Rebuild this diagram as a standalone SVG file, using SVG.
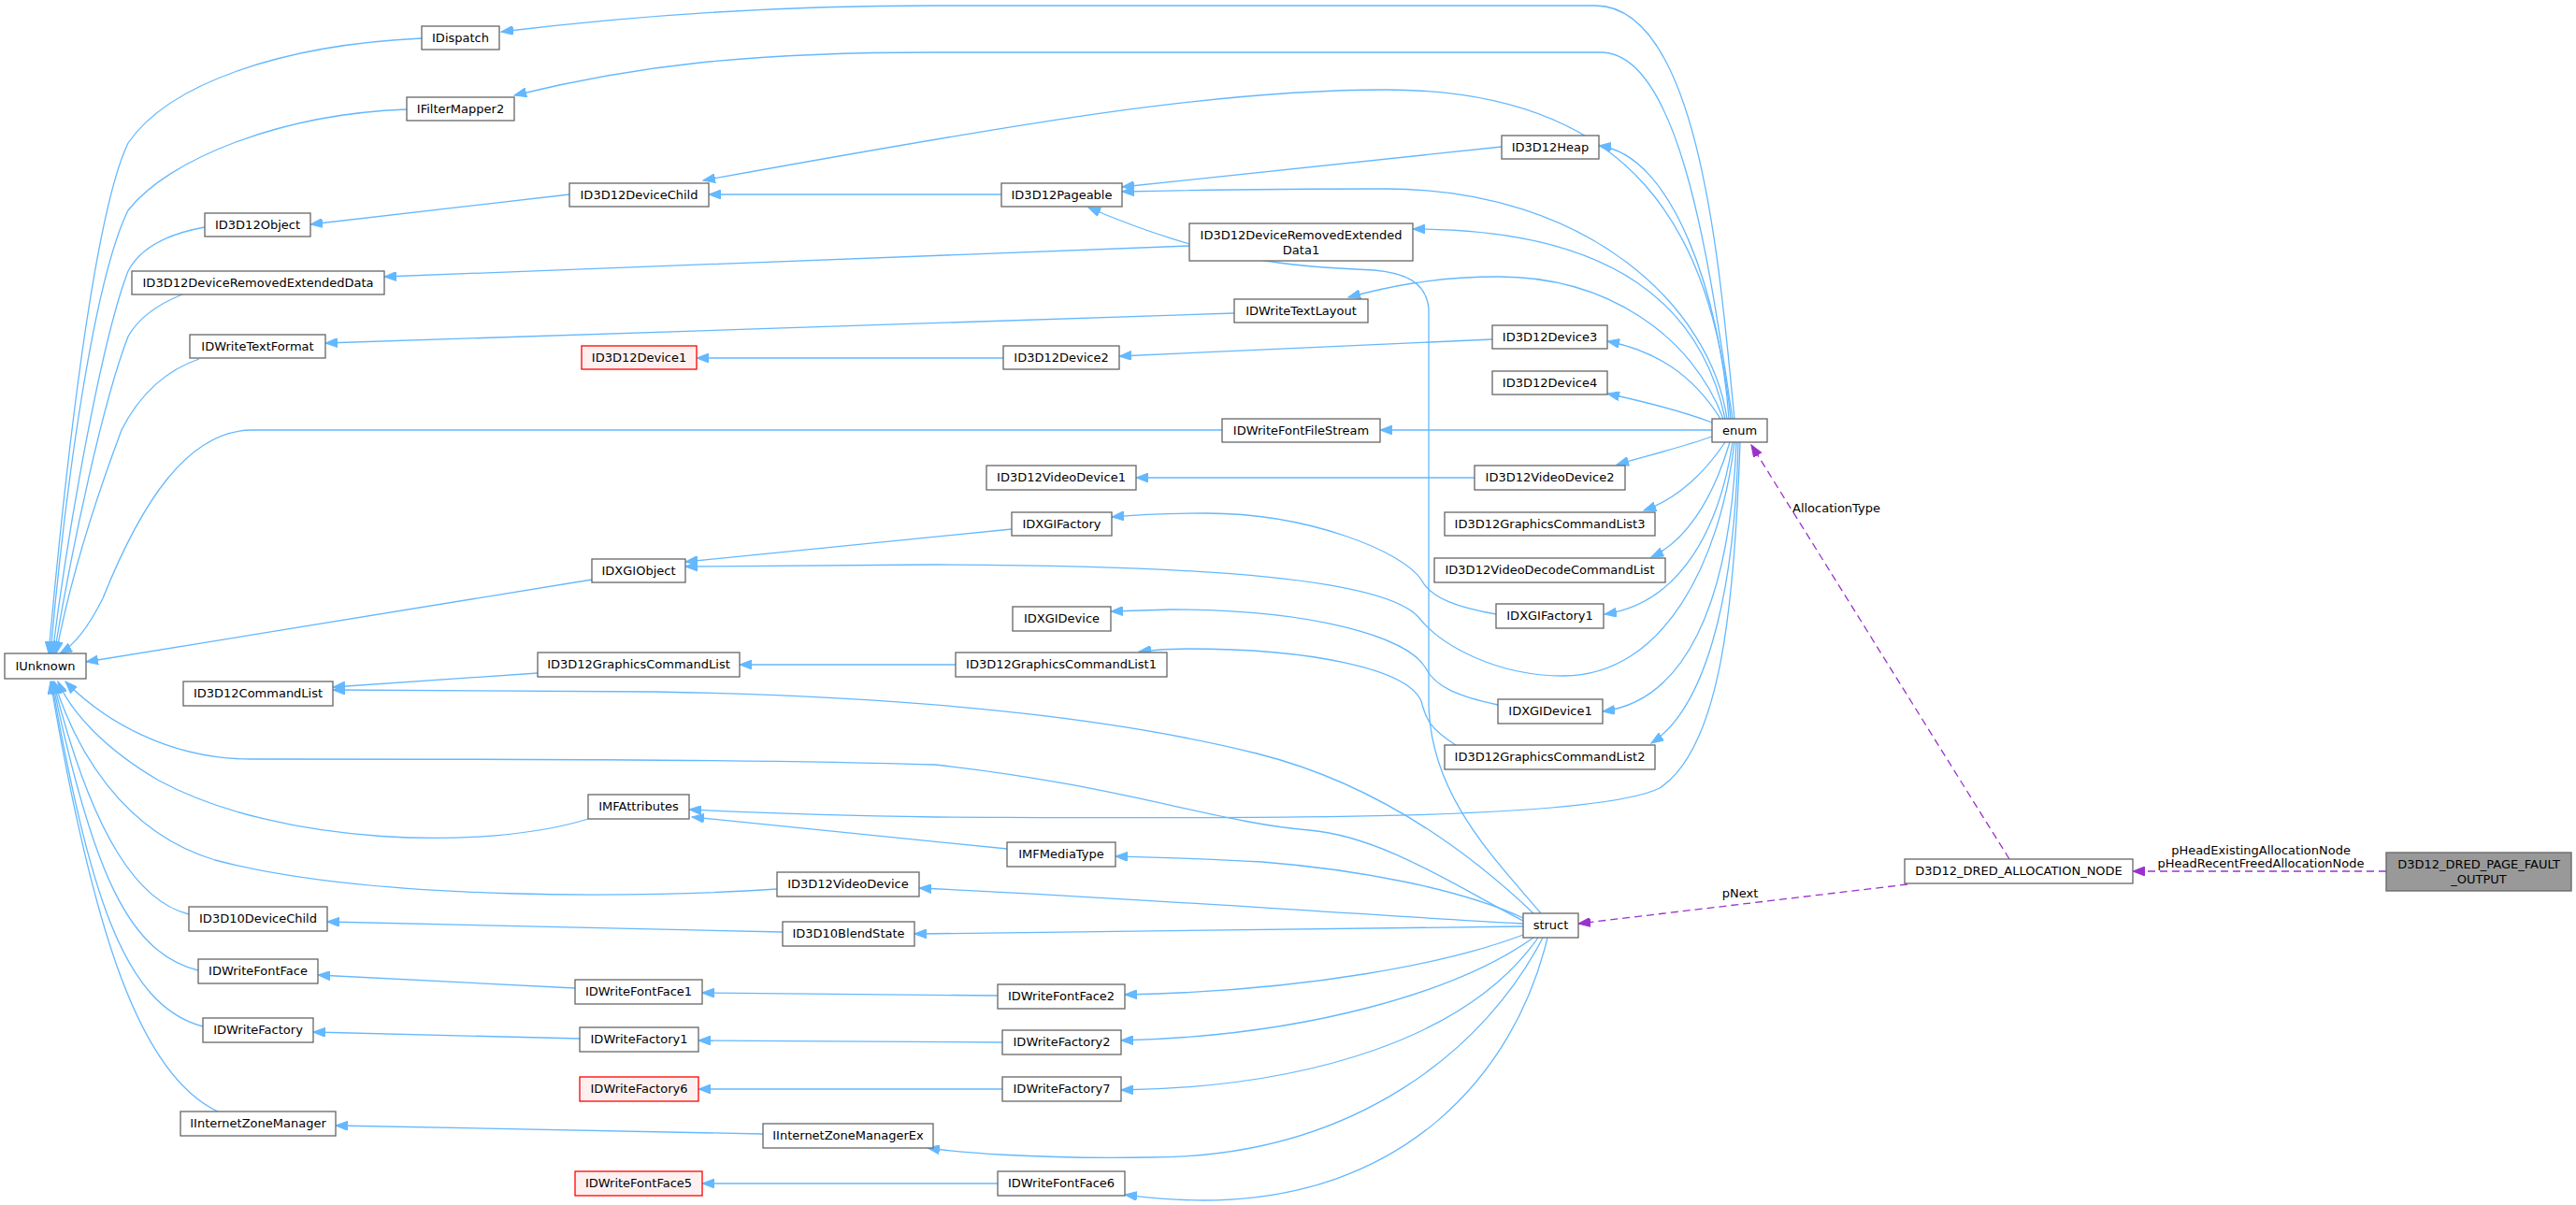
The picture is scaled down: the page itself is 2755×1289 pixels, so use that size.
<svg xmlns="http://www.w3.org/2000/svg" width="2755" height="1289" viewBox="0 0 2755 1289">
<style>
text{font-family:"DejaVu Sans","Liberation Sans",sans-serif;font-size:13px;fill:#000}
.n rect{fill:#fff;stroke:#666;stroke-width:1.3}
.r rect{fill:#fff0f0;stroke:#ff0000;stroke-width:1.3}
.g rect{fill:#999;stroke:#666;stroke-width:1.3}
.n text,.r text,.g text{text-anchor:middle}
.e path{fill:none;stroke:#63b8ff;stroke-width:1.3;marker-end:url(#ab)}
.e path.p{stroke:#9a32cd;stroke-dasharray:8,5;marker-end:url(#ap)}
.lbl{text-anchor:middle}
</style>
<defs>
<marker id="ab" markerUnits="userSpaceOnUse" markerWidth="14" markerHeight="10" refX="13" refY="5" orient="auto"><path d="M0,0 L13,5 L0,10 z" fill="#63b8ff" stroke="#63b8ff"/></marker>
<marker id="ap" markerUnits="userSpaceOnUse" markerWidth="14" markerHeight="10" refX="13" refY="5" orient="auto"><path d="M0,0 L13,5 L0,10 z" fill="#9a32cd" stroke="#9a32cd"/></marker>
</defs>
<rect width="2755" height="1289" fill="#fff"/>
<g class="e" id="edges">
<path d="M451,41 C300,48 180,90 137,153 C100,230 70,500 52,699"/>
<path d="M435,117 C300,122 180,170 137,225 C100,300 70,520 54,699"/>
<path d="M219,243 C180,250 150,265 137,290 C110,360 75,550 56,699"/>
<path d="M195,315 C170,325 148,340 137,360 C110,430 78,580 58,699"/>
<path d="M213,384 C180,395 150,420 130,460 C100,540 75,620 60,699"/>
<path d="M1307,460 L270,460 C200,460 150,540 110,640 C95,670 80,690 64,699"/>
<path d="M633,620 L92,708"/>
<path d="M1629,985 C1560,950 1480,895 1400,888 C1300,880 1200,840 1000,818 C800,812 500,812 268,812 C180,812 110,770 70,729"/>
<path d="M629,876 C520,910 300,905 170,835 C110,800 75,760 62,729"/>
<path d="M831,951 C700,960 400,965 230,920 C130,890 80,800 58,729"/>
<path d="M202,978 C150,965 100,900 57,729"/>
<path d="M212,1038 C140,1020 100,940 56,729"/>
<path d="M217,1098 C130,1075 95,950 55,729"/>
<path d="M233,1189 C150,1150 100,1000 54,729"/>
<path d="M1855,448 C1840,300 1820,6 1706,6 L1000,6 C800,6 650,20 536,34"/>
<path d="M1853,448 C1830,300 1800,56 1712,56 L1000,56 C800,56 680,70 550,102"/>
<path d="M1851,448 C1830,250 1750,96 1482,96 C1300,96 1100,130 752,193"/>
<path d="M1849,448 C1840,320 1790,165 1710,156"/>
<path d="M1847,448 C1830,330 1700,202 1482,202 C1350,202 1280,203 1200,205"/>
<path d="M1845,448 C1820,330 1730,245 1511,245"/>
<path d="M1843,448 C1810,360 1720,296 1603,296 C1530,296 1480,308 1442,318"/>
<path d="M1840,448 C1810,400 1770,375 1719,365"/>
<path d="M1831,452 C1800,440 1760,430 1719,421"/>
<path d="M1831,460 L1476,460"/>
<path d="M1831,467 C1800,478 1760,488 1729,497"/>
<path d="M1845,473 C1820,510 1790,535 1758,546"/>
<path d="M1850,473 C1830,540 1800,580 1766,596"/>
<path d="M1853,473 C1840,560 1800,645 1716,657"/>
<path d="M1855,473 C1840,600 1780,723 1672,723 C1600,723 1540,690 1517,660 C1480,620 1300,605 1000,604 L733,606"/>
<path d="M1857,473 C1850,650 1800,750 1714,761"/>
<path d="M1859,473 C1855,650 1820,760 1766,795"/>
<path d="M1861,473 C1855,650 1840,800 1775,843 C1700,880 1300,875 1000,874 C850,872 780,868 737,866"/>
<path d="M1082,566 L733,601"/>
<path d="M1600,657 C1560,650 1530,640 1520,620 C1500,590 1400,549 1290,549 C1240,549 1210,551 1189,553"/>
<path d="M1602,754 C1560,745 1535,735 1525,715 C1505,680 1400,652 1253,652 L1188,654"/>
<path d="M1557,797 C1530,780 1525,770 1520,750 C1505,715 1400,694 1270,694 C1250,694 1235,695 1218,697"/>
<path d="M1022,711 L791,711"/>
<path d="M575,720 L356,735"/>
<path d="M1640,977 C1580,920 1480,840 1344,806 C1200,770 1000,745 700,740 L356,738"/>
<path d="M1648,977 C1600,920 1528,850 1528,750 L1528,330 C1525,300 1500,292 1470,289 C1380,285 1300,280 1164,222"/>
<path d="M609,208 L332,240"/>
<path d="M1071,208 L758,208"/>
<path d="M1606,157 L1200,200"/>
<path d="M1272,263 L411,296"/>
<path d="M1320,335 L348,367"/>
<path d="M1073,383 L745,383"/>
<path d="M1596,363 L1197,381"/>
<path d="M1577,511 L1215,511"/>
<path d="M1629,982 C1560,950 1450,930 1350,922 C1280,918 1230,917 1193,916"/>
<path d="M1077,908 L740,874"/>
<path d="M1629,988 C1400,975 1200,960 983,950"/>
<path d="M1629,991 L978,999"/>
<path d="M837,997 L350,986"/>
<path d="M1629,1000 C1550,1030 1400,1060 1203,1064"/>
<path d="M1067,1065 L751,1062"/>
<path d="M615,1057 L340,1043"/>
<path d="M1640,1003 C1560,1060 1400,1108 1199,1113"/>
<path d="M1072,1115 L747,1113"/>
<path d="M620,1111 L335,1104"/>
<path d="M1645,1003 C1570,1110 1400,1163 1199,1166"/>
<path d="M1072,1165 L747,1165"/>
<path d="M1650,1003 C1590,1120 1450,1238 1230,1238 C1100,1240 1020,1232 992,1228"/>
<path d="M816,1213 L359,1204"/>
<path d="M1655,1003 C1620,1150 1500,1284 1287,1284 C1250,1284 1220,1280 1203,1278"/>
<path d="M1067,1266 L751,1266"/>
<path class="p" d="M2149,919 L1873,476"/>
<path class="p" d="M2040,946 L1688,988"/>
<path class="p" d="M2552,932 L2281,932"/>
</g>
<text x="1917" y="548">AllocationType</text>
<text class="lbl" x="1861" y="960">pNext</text>
<text class="lbl" x="2418" y="914">pHeadExistingAllocationNode</text>
<text class="lbl" x="2418" y="928">pHeadRecentFreedAllocationNode</text>
<g class="n" id="IDispatch"><rect x="451" y="28" width="83" height="25"/><text x="492.5" y="45">IDispatch</text></g>
<g class="n" id="IFilterMapper2"><rect x="435" y="104" width="115" height="25"/><text x="492.5" y="121">IFilterMapper2</text></g>
<g class="n" id="ID3D12DeviceChild"><rect x="609" y="196" width="149" height="25"/><text x="683.5" y="213">ID3D12DeviceChild</text></g>
<g class="n" id="ID3D12Object"><rect x="219" y="228" width="113" height="25"/><text x="275.5" y="245">ID3D12Object</text></g>
<g class="n" id="ID3D12DeviceRemovedExtendedData"><rect x="141" y="290" width="270" height="25"/><text x="276" y="307">ID3D12DeviceRemovedExtendedData</text></g>
<g class="n" id="IDWriteTextFormat"><rect x="203" y="358" width="145" height="25"/><text x="275.5" y="375">IDWriteTextFormat</text></g>
<g class="r" id="ID3D12Device1"><rect x="622" y="370" width="123" height="25"/><text x="683.5" y="387">ID3D12Device1</text></g>
<g class="n" id="IDXGIObject"><rect x="633" y="598" width="100" height="25"/><text x="683" y="615">IDXGIObject</text></g>
<g class="n" id="IUnknown"><rect x="5" y="699" width="87" height="27"/><text x="48.5" y="717">IUnknown</text></g>
<g class="n" id="ID3D12GraphicsCommandList"><rect x="575" y="698" width="216" height="26"/><text x="683" y="715">ID3D12GraphicsCommandList</text></g>
<g class="n" id="ID3D12CommandList"><rect x="196" y="729" width="160" height="26"/><text x="276" y="746">ID3D12CommandList</text></g>
<g class="n" id="IMFAttributes"><rect x="629" y="850" width="108" height="26"/><text x="683" y="867">IMFAttributes</text></g>
<g class="n" id="ID3D12VideoDevice"><rect x="831" y="933" width="152" height="26"/><text x="907" y="950">ID3D12VideoDevice</text></g>
<g class="n" id="ID3D10DeviceChild"><rect x="202" y="970" width="148" height="26"/><text x="276" y="987">ID3D10DeviceChild</text></g>
<g class="n" id="ID3D10BlendState"><rect x="837" y="986" width="141" height="26"/><text x="907.5" y="1003">ID3D10BlendState</text></g>
<g class="n" id="IDWriteFontFace"><rect x="212" y="1026" width="128" height="26"/><text x="276" y="1043">IDWriteFontFace</text></g>
<g class="n" id="IDWriteFontFace1"><rect x="615" y="1048" width="136" height="26"/><text x="683" y="1065">IDWriteFontFace1</text></g>
<g class="n" id="IDWriteFactory"><rect x="217" y="1089" width="118" height="26"/><text x="276" y="1106">IDWriteFactory</text></g>
<g class="n" id="IDWriteFactory1"><rect x="620" y="1099" width="127" height="26"/><text x="683.5" y="1116">IDWriteFactory1</text></g>
<g class="r" id="IDWriteFactory6"><rect x="620" y="1152" width="127" height="26"/><text x="683.5" y="1169">IDWriteFactory6</text></g>
<g class="n" id="IInternetZoneManager"><rect x="193" y="1189" width="166" height="26"/><text x="276" y="1206">IInternetZoneManager</text></g>
<g class="n" id="IInternetZoneManagerEx"><rect x="816" y="1202" width="182" height="26"/><text x="907" y="1219">IInternetZoneManagerEx</text></g>
<g class="r" id="IDWriteFontFace5"><rect x="615" y="1253" width="136" height="26"/><text x="683" y="1270">IDWriteFontFace5</text></g>
<g class="n" id="ID3D12Heap"><rect x="1606" y="145" width="104" height="25"/><text x="1658" y="162">ID3D12Heap</text></g>
<g class="n" id="ID3D12Pageable"><rect x="1071" y="196" width="129" height="25"/><text x="1135.5" y="213">ID3D12Pageable</text></g>
<g class="n" id="ID3D12DeviceRemovedExtendedData1"><rect x="1272" y="239" width="239" height="40"/><text x="1391.5" y="256">ID3D12DeviceRemovedExtended</text><text x="1391.5" y="272">Data1</text></g>
<g class="n" id="IDWriteTextLayout"><rect x="1320" y="320" width="143" height="25"/><text x="1391.5" y="337">IDWriteTextLayout</text></g>
<g class="n" id="ID3D12Device2"><rect x="1073" y="370" width="124" height="25"/><text x="1135" y="387">ID3D12Device2</text></g>
<g class="n" id="ID3D12Device3"><rect x="1596" y="348" width="123" height="25"/><text x="1657.5" y="365">ID3D12Device3</text></g>
<g class="n" id="ID3D12Device4"><rect x="1596" y="397" width="123" height="25"/><text x="1657.5" y="414">ID3D12Device4</text></g>
<g class="n" id="IDWriteFontFileStream"><rect x="1307" y="448" width="169" height="25"/><text x="1391.5" y="465">IDWriteFontFileStream</text></g>
<g class="n" id="enum"><rect x="1831" y="448" width="59" height="25"/><text x="1860.5" y="465">enum</text></g>
<g class="n" id="ID3D12VideoDevice1"><rect x="1055" y="498" width="160" height="26"/><text x="1135" y="515">ID3D12VideoDevice1</text></g>
<g class="n" id="ID3D12VideoDevice2"><rect x="1577" y="498" width="161" height="26"/><text x="1657.5" y="515">ID3D12VideoDevice2</text></g>
<g class="n" id="IDXGIFactory"><rect x="1082" y="548" width="107" height="25"/><text x="1135.5" y="565">IDXGIFactory</text></g>
<g class="n" id="ID3D12GraphicsCommandList3"><rect x="1545" y="548" width="225" height="25"/><text x="1657.5" y="565">ID3D12GraphicsCommandList3</text></g>
<g class="n" id="ID3D12VideoDecodeCommandList"><rect x="1534" y="597" width="247" height="26"/><text x="1657.5" y="614">ID3D12VideoDecodeCommandList</text></g>
<g class="n" id="IDXGIDevice"><rect x="1083" y="649" width="105" height="26"/><text x="1135.5" y="666">IDXGIDevice</text></g>
<g class="n" id="IDXGIFactory1"><rect x="1600" y="646" width="115" height="26"/><text x="1657.5" y="663">IDXGIFactory1</text></g>
<g class="n" id="ID3D12GraphicsCommandList1"><rect x="1022" y="698" width="226" height="26"/><text x="1135" y="715">ID3D12GraphicsCommandList1</text></g>
<g class="n" id="IDXGIDevice1"><rect x="1602" y="748" width="112" height="26"/><text x="1658" y="765">IDXGIDevice1</text></g>
<g class="n" id="ID3D12GraphicsCommandList2"><rect x="1545" y="797" width="225" height="26"/><text x="1657.5" y="814">ID3D12GraphicsCommandList2</text></g>
<g class="n" id="IMFMediaType"><rect x="1077" y="901" width="116" height="26"/><text x="1135" y="918">IMFMediaType</text></g>
<g class="n" id="struct"><rect x="1629" y="977" width="59" height="26"/><text x="1658.5" y="994">struct</text></g>
<g class="n" id="IDWriteFontFace2"><rect x="1067" y="1053" width="136" height="26"/><text x="1135" y="1070">IDWriteFontFace2</text></g>
<g class="n" id="IDWriteFactory2"><rect x="1072" y="1102" width="127" height="26"/><text x="1135.5" y="1119">IDWriteFactory2</text></g>
<g class="n" id="IDWriteFactory7"><rect x="1072" y="1152" width="127" height="26"/><text x="1135.5" y="1169">IDWriteFactory7</text></g>
<g class="n" id="IDWriteFontFace6"><rect x="1067" y="1253" width="136" height="26"/><text x="1135" y="1270">IDWriteFontFace6</text></g>
<g class="n" id="D3D12_DRED_ALLOCATION_NODE"><rect x="2037" y="919" width="244" height="26"/><text x="2159" y="936">D3D12_DRED_ALLOCATION_NODE</text></g>
<g class="g" id="D3D12_DRED_PAGE_FAULT_OUTPUT"><rect x="2552" y="912" width="198" height="41"/><text x="2651" y="929">D3D12_DRED_PAGE_FAULT</text><text x="2651" y="945">_OUTPUT</text></g>
</svg>
